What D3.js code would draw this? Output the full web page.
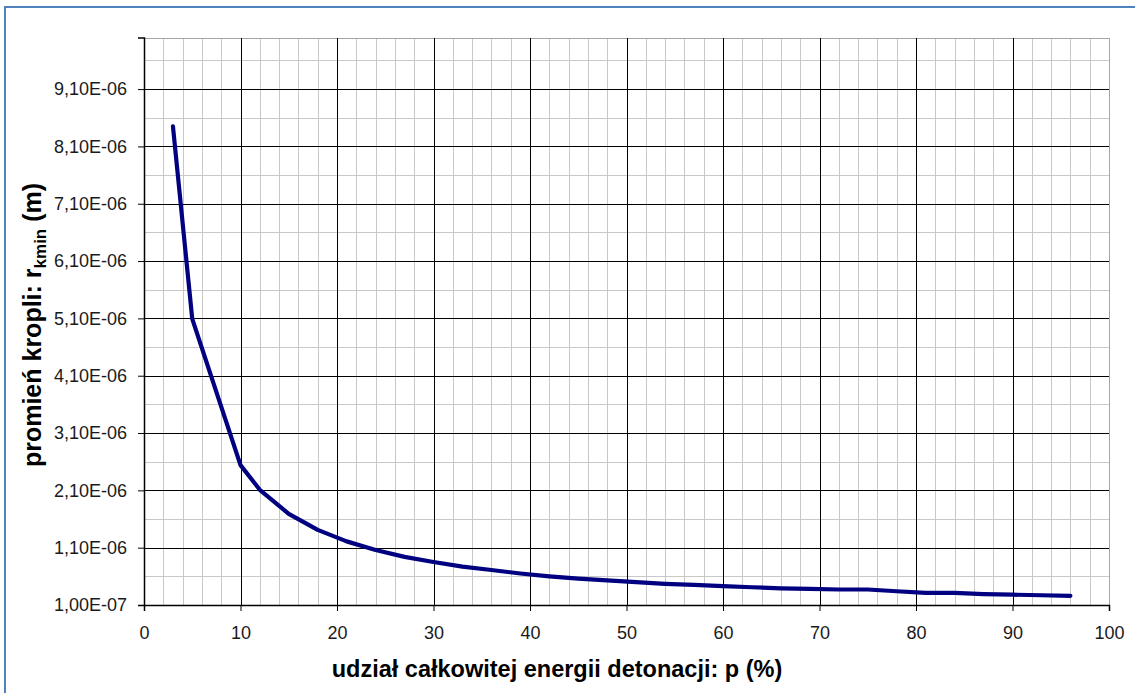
<!DOCTYPE html>
<html>
<head>
<meta charset="utf-8">
<script src="https://cdn.jsdelivr.net/npm/d3@7"></script>
<style>
  html, body { margin: 0; padding: 0; background: #fff; }
  svg { display: block; font-family: "Liberation Sans", Arial, sans-serif; }
</style>
</head>
<body>
<svg id="chart" width="1135" height="693"></svg>
<script>
// Energy share p (%) and minimum droplet radius r_kmin (m)
const pValues = [3, 5, 10, 12, 15, 18, 21, 24, 27, 30, 33, 36, 39, 42, 45, 48, 51, 54, 57, 60,
                 63, 66, 69, 72, 75, 78, 81, 84, 87, 90, 93, 96];
const rValues = [8.45e-6, 5.09e-6, 2.54e-6, 2.11e-6, 1.69e-6, 1.41e-6, 1.21e-6, 1.06e-6, 9.4e-7, 8.5e-7,
                 7.7e-7, 7.1e-7, 6.5e-7, 6.0e-7, 5.6e-7, 5.3e-7, 5.0e-7, 4.7e-7, 4.5e-7, 4.3e-7,
                 4.1e-7, 3.9e-7, 3.8e-7, 3.7e-7, 3.7e-7, 3.4e-7, 3.1e-7, 3.1e-7, 2.9e-7, 2.8e-7,
                 2.7e-7, 2.6e-7];

const xTickValues = [0, 10, 20, 30, 40, 50, 60, 70, 80, 90, 100];
const yTickValues = [1.0e-7, 1.1e-6, 2.1e-6, 3.1e-6, 4.1e-6, 5.1e-6, 6.1e-6, 7.1e-6, 8.1e-6, 9.1e-6];
const yTickLabels = ["1,00E-07", "1,10E-06", "2,10E-06", "3,10E-06", "4,10E-06",
                     "5,10E-06", "6,10E-06", "7,10E-06", "8,10E-06", "9,10E-06"];
const xMinorStep = 2;
const yMinorStep = 0.5e-6;

const xTitle = "udział całkowitej energii detonacji: p (%)";

const svg = d3.select("#chart");
const plot = { left: 144, right: 1109, top: 37.5, bottom: 605 };

const x = d3.scaleLinear().domain([0, 100]).range([plot.left, plot.right]);
const y = d3.scaleLinear().domain([1.0e-7, 1.0e-5]).range([plot.bottom, plot.top]);

// outer frame
svg.append("rect")
  .attr("x", 5).attr("y", 7)
  .attr("width", 1140).attr("height", 700)
  .attr("fill", "#fff")
  .attr("stroke", "#4f81bd").attr("stroke-width", 2);

// minor grid
const xMinor = d3.range(0, 100 + 1e-9, xMinorStep).filter(v => v % 10 !== 0);
const yMinor = d3.range(0, 20).map(i => 1.0e-7 + i * yMinorStep).filter((v, i) => i % 2 === 1 && v < 1.0e-5);

const grid = svg.append("g").attr("shape-rendering", "crispEdges");
grid.selectAll("line.xm").data(xMinor).join("line")
  .attr("x1", d => Math.round(x(d)) + 0.5).attr("x2", d => Math.round(x(d)) + 0.5)
  .attr("y1", plot.top).attr("y2", plot.bottom)
  .attr("stroke", "#c8c8c8").attr("stroke-width", 1);
grid.selectAll("line.ym").data(yMinor).join("line")
  .attr("y1", d => Math.round(y(d)) + 0.5).attr("y2", d => Math.round(y(d)) + 0.5)
  .attr("x1", plot.left).attr("x2", plot.right)
  .attr("stroke", "#c8c8c8").attr("stroke-width", 1);

// plot border (top/right in grey)
grid.append("rect")
  .attr("x", plot.left + 0.5).attr("y", Math.round(plot.top) + 0.5)
  .attr("width", plot.right - plot.left).attr("height", plot.bottom - Math.round(plot.top))
  .attr("fill", "none").attr("stroke", "#a6a6a6").attr("stroke-width", 1);

// major grid
grid.selectAll("line.xM").data(xTickValues.filter(v => v > 0 && v < 100)).join("line")
  .attr("x1", d => Math.round(x(d)) + 0.5).attr("x2", d => Math.round(x(d)) + 0.5)
  .attr("y1", Math.round(plot.top)).attr("y2", plot.bottom)
  .attr("stroke", "#000").attr("stroke-width", 1);
grid.selectAll("line.yM").data(yTickValues.slice(1)).join("line")
  .attr("y1", d => Math.round(y(d)) + 0.5).attr("y2", d => Math.round(y(d)) + 0.5)
  .attr("x1", plot.left).attr("x2", plot.right)
  .attr("stroke", "#000").attr("stroke-width", 1);

// axes
const tickFont = "18px";
const xAxis = d3.axisBottom(x).tickValues(xTickValues).tickSize(6).tickPadding(15)
  .tickFormat(d => String(d));
const gx = svg.append("g")
  .attr("transform", `translate(0,${plot.bottom})`)
  .call(xAxis)
  .attr("font-family", "'Liberation Sans', Arial, sans-serif");
gx.select(".domain").attr("stroke", "#000").attr("stroke-width", 1.5);
gx.selectAll(".tick line").attr("stroke", "#000");
gx.selectAll(".tick text").style("font-size", tickFont).attr("fill", "#1a1a1a");

const yAxis = d3.axisLeft(y).tickValues(yTickValues).tickSize(6).tickPadding(11)
  .tickFormat((d, i) => yTickLabels[i]);
const gy = svg.append("g")
  .attr("transform", `translate(${plot.left},0)`)
  .call(yAxis)
  .attr("font-family", "'Liberation Sans', Arial, sans-serif");
gy.select(".domain").attr("stroke", "#000").attr("stroke-width", 1.5);
gy.selectAll(".tick line").attr("stroke", "#000");
gy.selectAll(".tick text").style("font-size", tickFont).attr("fill", "#1a1a1a");

// data line
const line = d3.line()
  .x((d, i) => x(pValues[i]))
  .y(d => y(d));
svg.append("path")
  .datum(rValues)
  .attr("d", line)
  .attr("fill", "none")
  .attr("stroke", "#000080")
  .attr("stroke-width", 4.2)
  .attr("stroke-linejoin", "round")
  .attr("stroke-linecap", "round");

// axis titles
svg.append("text")
  .attr("x", 557).attr("y", 677)
  .attr("text-anchor", "middle")
  .attr("font-size", 23.5).attr("font-weight", "bold").attr("fill", "#000")
  .text(xTitle);

const yt = svg.append("text")
  .attr("transform", "translate(41,325) rotate(-90)")
  .attr("text-anchor", "middle")
  .attr("font-size", 25).attr("font-weight", "bold").attr("fill", "#000");
yt.append("tspan").text("promień kropli: r");
yt.append("tspan").attr("font-size", 17).attr("dy", 5).text("kmin");
yt.append("tspan").attr("dy", -5).text(" (m)");
</script>
</body>
</html>
